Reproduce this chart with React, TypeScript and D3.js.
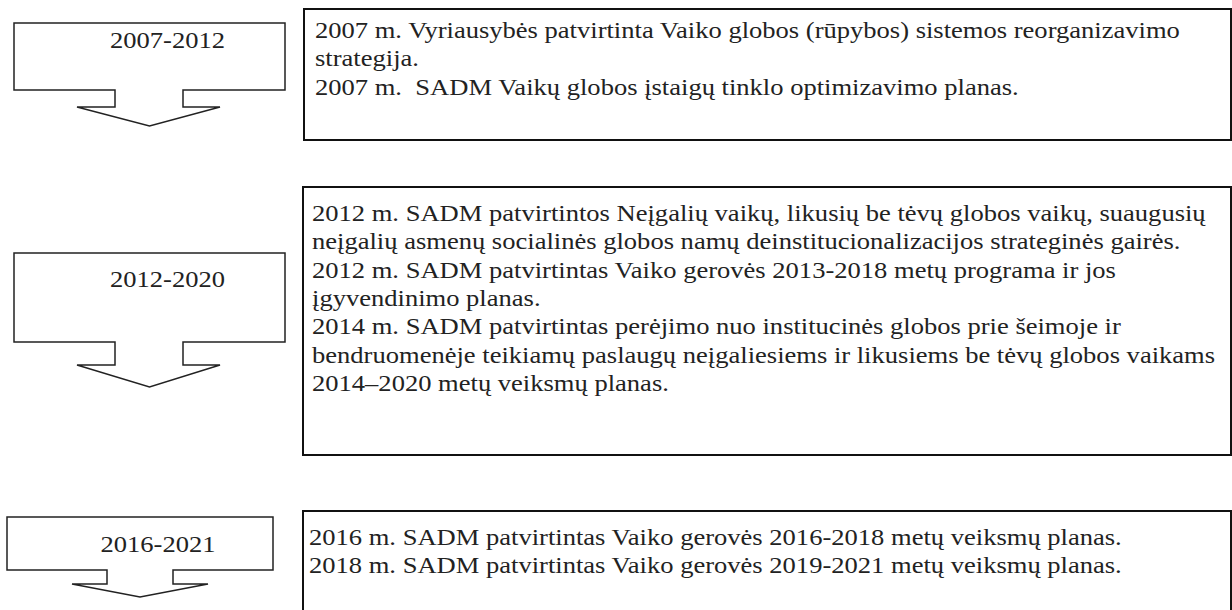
import * as d3 from "d3";
import { useEffect, useRef } from "react";

// periods shown in the left arrow boxes
const periods = ["2007-2012", "2012-2020", "2016-2021"];

// text lines of each document box
const docs2007 = [
  "2007 m. Vyriausybės patvirtinta Vaiko globos (rūpybos) sistemos reorganizavimo",
  "strategija.",
  "2007 m.  SADM Vaikų globos įstaigų tinklo optimizavimo planas.",
];
const docs2012 = [
  "2012 m. SADM patvirtintos Neįgalių vaikų, likusių be tėvų globos vaikų, suaugusių",
  "neįgalių asmenų socialinės globos namų deinstitucionalizacijos strateginės gairės.",
  "2012 m. SADM patvirtintas Vaiko gerovės 2013-2018 metų programa ir jos",
  "įgyvendinimo planas.",
  "2014 m. SADM patvirtintas perėjimo nuo institucinės globos prie šeimoje ir",
  "bendruomenėje teikiamų paslaugų neįgaliesiems ir likusiems be tėvų globos vaikams",
  "2014–2020 metų veiksmų planas.",
];
const docs2016 = [
  "2016 m. SADM patvirtintas Vaiko gerovės 2016-2018 metų veiksmų planas.",
  "2018 m. SADM patvirtintas Vaiko gerovės 2019-2021 metų veiksmų planas.",
];
const docLines = [docs2007, docs2012, docs2016];

export default function App() {
  const ref = useRef<SVGSVGElement | null>(null);

  useEffect(() => {
    document.body.style.margin = "0";
    const W = 1232;
    const H = 610;
    const svg = d3.select(ref.current).attr("width", W).attr("height", H);
    svg.selectAll("*").remove();

    const font = "'Liberation Serif', 'Times New Roman', serif";
    const fs = 23;
    const sx = 1.155; // the scanned text is a bit wider than the font
    const lineH = 28.3;

    // layout of the left arrow boxes and right text boxes
    const arrows = [
      { x0: 14, x1: 285, y0: 23, y1: 90, s0: 115, s1: 183, h0: 77, h1: 220, hy: 107, tip: 126, base: 48 },
      { x0: 14, x1: 285, y0: 253, y1: 342, s0: 115, s1: 183, h0: 77, h1: 220, hy: 365, tip: 387, base: 287 },
      { x0: 7, x1: 273, y0: 517, y1: 570, s0: 107, s1: 173, h0: 72, h1: 208, hy: 584, tip: 597, base: 552 },
    ];
    const boxes = [
      { x0: 304, x1: 1231, y0: 9, y1: 140, tx: 315, first: 38 },
      { x0: 303, x1: 1231, y0: 187, y1: 455, tx: 312, first: 221 },
      { x0: 303, x1: 1231, y0: 511, y1: 616, tx: 309, first: 545 },
    ];

    const g = svg.append("g");

    periods.forEach((p, i) => {
      const a = arrows[i];
      const cx = (a.x0 + a.x1) / 2;
      const path = d3.path();
      path.moveTo(a.x0, a.y0);
      path.lineTo(a.x1, a.y0);
      path.lineTo(a.x1, a.y1);
      path.lineTo(a.s1, a.y1);
      path.lineTo(a.s1, a.hy);
      path.lineTo(a.h1, a.hy);
      path.lineTo(cx, a.tip);
      path.lineTo(a.h0, a.hy);
      path.lineTo(a.s0, a.hy);
      path.lineTo(a.s0, a.y1);
      path.lineTo(a.x0, a.y1);
      path.closePath();
      g.append("path")
        .attr("d", path.toString())
        .attr("fill", "#fff")
        .attr("stroke", "#222")
        .attr("stroke-width", 1.5)
        .attr("stroke-linejoin", "miter");
      g.append("text")
        .attr("transform", `translate(${cx + 18},${a.base}) scale(${sx},1)`)
        .attr("text-anchor", "middle")
        .attr("font-family", font)
        .attr("font-size", fs)
        .attr("fill", "#222")
        .text(p);

      const b = boxes[i];
      g.append("rect")
        .attr("x", b.x0)
        .attr("y", b.y0)
        .attr("width", b.x1 - b.x0)
        .attr("height", b.y1 - b.y0)
        .attr("fill", "#fff")
        .attr("stroke", "#111")
        .attr("stroke-width", 2);
      g.append("g")
        .selectAll("text")
        .data(docLines[i])
        .join("text")
        .attr("transform", (_, j) => `translate(${b.tx},${b.first + j * lineH}) scale(${sx},1)`)
        .attr("font-family", font)
        .attr("font-size", fs)
        .attr("fill", "#222")
        .style("white-space", "pre")
        .text((d) => d);
    });
  }, []);

  return <svg ref={ref} style={{ display: "block" }} />;
}
